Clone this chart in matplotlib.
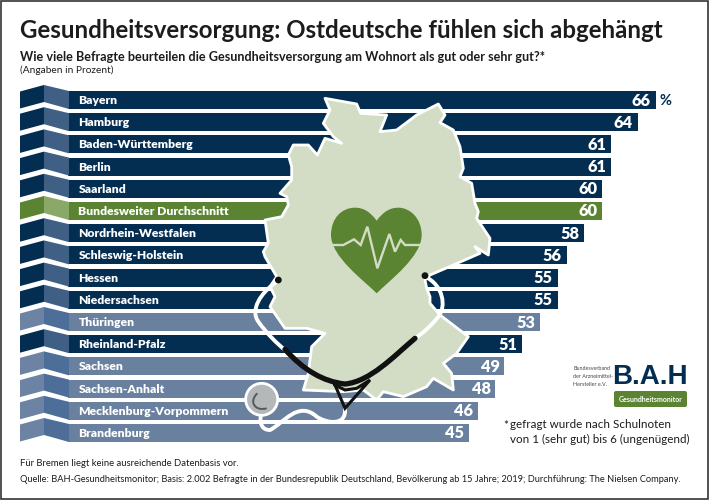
import matplotlib
matplotlib.use("Agg")
import matplotlib.pyplot as plt
from matplotlib.path import Path
from matplotlib.patches import PathPatch, Polygon, Circle, Rectangle, FancyBboxPatch

plt.rcParams['font.family'] = ['Lato', 'DejaVu Sans']

regions = ["Bayern", "Hamburg", "Baden-Württemberg", "Berlin", "Saarland",
           "Bundesweiter Durchschnitt", "Nordrhein-Westfalen", "Schleswig-Holstein",
           "Hessen", "Niedersachsen", "Thüringen", "Rheinland-Pfalz", "Sachsen",
           "Sachsen-Anhalt", "Mecklenburg-Vorpommern", "Brandenburg"]
values = [66, 64, 61, 61, 60, 60, 58, 56, 55, 55, 53, 51, 49, 48, 46, 45]
groups = ["w", "w", "w", "w", "w", "d", "w", "w", "w", "w", "e", "w", "e", "e", "e", "e"]

bar_col = {"w": "#042d52", "d": "#5a8431", "e": "#69809f"}
fold_col = {"w": "#3f5f85", "d": "#8aa968", "e": "#4d6e98"}
fold_left = {"w": "#042d52", "d": "#5a8431", "e": "#6c83a3"}

W, H = 709, 501
X0, XS, Y0, YS = 68.3, 8.9, 100, 22.2
fig = plt.figure(figsize=(W / 100, H / 100), dpi=100, facecolor="white")

# data axes: value scale and one row per category
ax = fig.add_axes([0, 0, 1, 1], facecolor="none")
ax.set_xlim(-X0 / XS, (W - X0) / XS)
ax.set_ylim((H - Y0) / YS, -Y0 / YS)
ax.axis("off")
ypos = list(range(len(regions)))
ax.barh(ypos, values, height=18 / YS, color=[bar_col[g] for g in groups], zorder=1)

# pixel overlay for artwork
px = fig.add_axes([0, 0, 1, 1], facecolor="none")
px.set_xlim(0, W)
px.set_ylim(H, 0)
px.axis("off")

for i, g in enumerate(groups):
    c = Y0 + YS * i
    px.add_patch(Polygon([(20, c - 8.5), (44, c - 15), (44, c + 2), (20, c + 8.5)],
                         fc=fold_left[g], ec="none", zorder=1))
    px.add_patch(Polygon([(44, c - 15), (69, c - 9), (69, c + 9), (44, c + 2)],
                         fc=fold_col[g], ec="none", zorder=1))

for i, (r, v) in enumerate(zip(regions, values)):
    px.text(78.5, Y0 + 0.5 + YS * i, r, color="white", fontsize=8.75, fontweight="heavy",
            va="center", ha="left", zorder=6)
    px.text(X0 + XS * v - 5, Y0 + 0.5 + YS * i, str(v), color="white", fontsize=11.8,
            fontweight="heavy", va="center", ha="right", zorder=6)
px.text(659, Y0 + 0.5, "%", color="#042d52", fontsize=10.5, fontweight="bold",
        va="center", ha="left")

def z(p):
    return [(230 + x / 3, 80 + y / 3) for x, y in p]

germany = [(285, 55), (380, 72), (392, 100), (470, 105), (450, 155), (500, 150), (560, 105),
           (625, 72), (645, 105), (630, 128), (670, 150), (690, 200), (700, 265), (690, 290),
           (725, 310), (735, 370), (745, 395), (740, 415), (780, 475), (775, 525), (735, 500),
           (750, 520), (670, 555), (600, 585), (585, 600), (590, 625), (600, 650), (600, 670),
           (630, 705), (715, 770), (680, 820), (640, 850), (665, 880), (670, 930), (610, 895),
           (590, 920), (520, 950), (460, 935), (440, 960), (400, 930), (340, 935), (220, 930),
           (235, 880), (245, 800), (285, 760), (230, 745), (165, 745), (120, 680), (135, 650),
           (120, 620), (140, 590), (105, 530), (100, 515), (115, 490), (105, 420), (155, 410),
           (175, 375), (170, 350), (150, 340), (185, 300), (185, 260), (175, 225), (190, 195),
           (235, 195), (262, 225), (285, 175), (335, 190), (310, 170), (280, 130), (300, 90)]
px.add_patch(Polygon(z(germany), fc="#d3ddc6", ec="white", lw=2, zorder=3, joinstyle="round"))

# heart
hv = z([(440, 422), (420, 395), (400, 383), (375, 383), (335, 383), (303, 415), (303, 465),
        (303, 530), (400, 600), (440, 640), (480, 600), (575, 530), (575, 465),
        (575, 415), (540, 383), (505, 383), (480, 383), (460, 395), (440, 422)])
hc = [Path.MOVETO] + [Path.CURVE4] * (len(hv) - 1)
px.add_patch(PathPatch(Path(hv, hc), fc="#5a8431", ec="none", zorder=4))
ecg = z([(305, 495), (340, 495), (372, 478), (392, 495), (412, 440), (442, 565), (478, 462),
         (495, 515), (512, 480), (525, 495), (573, 495)])
px.plot(*zip(*ecg), color="#d3ddc6", lw=1.7, zorder=5, solid_joinstyle="miter")

# stethoscope
def curve(pts, **kw):
    v = z(pts)
    codes = [Path.MOVETO] + [Path.CURVE4] * (len(v) - 1)
    px.add_patch(PathPatch(Path(v, codes), fc="none", capstyle="round", **kw))

wk = dict(ec="white", lw=2.8, zorder=6)
curve([(140, 605), (90, 640), (60, 690), (85, 725), (110, 760), (140, 790), (165, 810)], **wk)
curve([(585, 590), (640, 615), (650, 680), (625, 710), (605, 735), (585, 755), (555, 775)], **wk)
curve([(345, 985), (350, 1040), (290, 1030), (260, 1010), (205, 960), (160, 1030), (120, 1050),
       (95, 1050), (90, 1030), (92, 1010)], **wk)
bk = dict(ec="#111111", lw=3.8, zorder=7)
curve([(165, 808), (220, 870), (280, 905), (345, 912), (420, 905), (490, 830), (555, 775)], **bk)
tri = z([(315, 915), (345, 985), (420, 900), (380, 925), (345, 930), (315, 915)])
px.plot(*zip(*tri), color="#111111", lw=2.2, zorder=7, solid_joinstyle="miter")
for x, y in z([(145, 600), (585, 587)]):
    px.add_patch(Circle((x, y), 3.4, fc="#111111", ec="none", zorder=8))
cx, cy = z([(95, 958)])[0]
px.add_patch(Circle((cx, cy), 16, fc="#b5b8b9", ec="white", lw=2, zorder=8))
px.add_patch(PathPatch(Path(z([(82, 940), (55, 965), (75, 995), (110, 985)]),
                            [Path.MOVETO, Path.CURVE4, Path.CURVE4, Path.CURVE4]),
                       fc="none", ec="#55585a", lw=1.4, zorder=9))

# heading
px.text(20, 30, "Gesundheitsversorgung: Ostdeutsche fühlen sich abgehängt", fontsize=17.3,
        fontweight="bold", color="#1c1c1c", va="center", ha="left")
px.text(20, 57, "Wie viele Befragte beurteilen die Gesundheitsversorgung am Wohnort als gut oder sehr gut?*",
        fontsize=9.06, fontweight="bold", color="#1c1c1c", va="center", ha="left")
px.text(20, 70, "(Angaben in Prozent)", fontsize=7.3, color="#1c1c1c", va="center", ha="left")

# footer
px.text(20, 463, "Für Bremen liegt keine ausreichende Datenbasis vor.", fontsize=6.8,
        color="#1c1c1c", va="center", ha="left")
px.text(20, 479, "Quelle: BAH-Gesundheitsmonitor; Basis: 2.002 Befragte in der Bundesrepublik Deutschland, "
        "Bevölkerung ab 15 Jahre; 2019; Durchführung: The Nielsen Company.", fontsize=6.68,
        color="#1c1c1c", va="center", ha="left")
px.text(503, 425, "*", fontsize=8.35, color="#1c1c1c", va="center", ha="left")
px.text(510, 425, "gefragt wurde nach Schulnoten", fontsize=8.35, color="#1c1c1c", va="center", ha="left")
px.text(510, 439, "von 1 (sehr gut) bis 6 (ungenügend)", fontsize=8.35, color="#1c1c1c", va="center", ha="left")

# logo
px.text(650, 377, "B.A.H", fontsize=20, fontweight="bold", color="#042d52", va="center", ha="center",
        family="Liberation Sans")
for y, s in zip([369, 376, 384], ["Bundesverband", "der Arzneimittel-", "Hersteller e.V."]):
    px.text(573, y, s, fontsize=3.9, color="#444444", va="center", ha="left")
px.add_patch(FancyBboxPatch((614, 391), 73, 16, boxstyle="round,pad=0,rounding_size=2",
                            fc="#5a8431", ec="none"))
px.text(650.5, 399, "Gesundheitsmonitor", fontsize=5, fontweight="bold", color="white",
        va="center", ha="center")

# frame
px.add_patch(Rectangle((1, 1), W - 2.5, H - 3, fc="none", ec="#333333", lw=1.2, zorder=10))

fig.savefig("out.png", dpi=100, facecolor="white")
